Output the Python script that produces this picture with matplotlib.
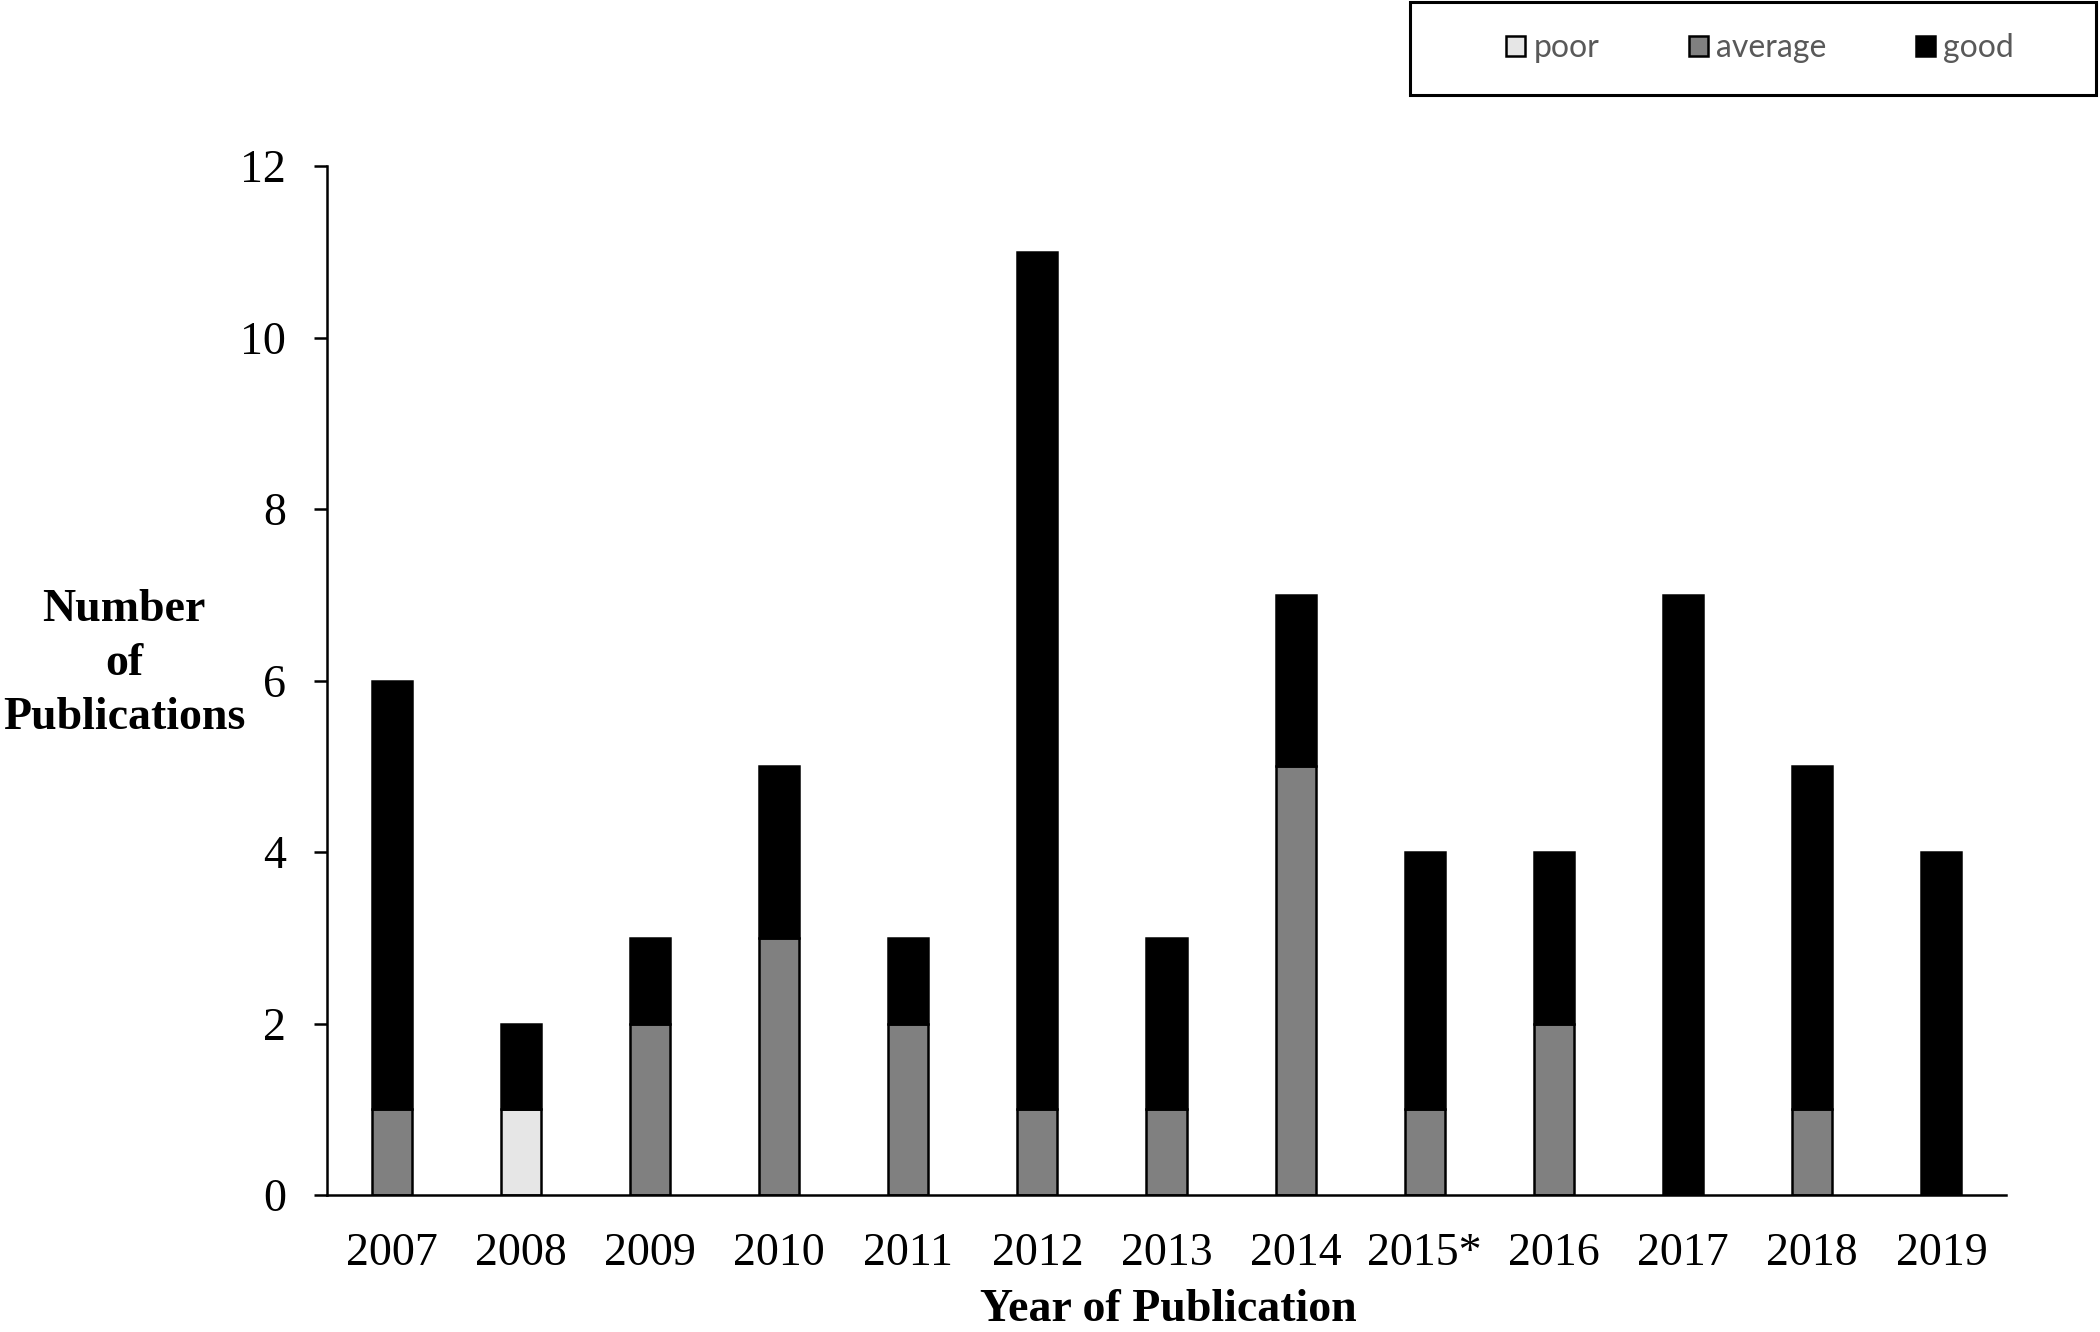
import numpy as np
import matplotlib
matplotlib.use('Agg')
import matplotlib.pyplot as plt
from matplotlib.patches import Rectangle

years = ['2007', '2008', '2009', '2010', '2011', '2012', '2013',
         '2014', '2015*', '2016', '2017', '2018', '2019']
poor = [0, 1, 0, 0, 0, 0, 0, 0, 0, 0, 0, 0, 0]
average = [1, 0, 2, 3, 2, 1, 1, 5, 1, 2, 0, 1, 0]
good = [5, 1, 1, 2, 1, 10, 2, 2, 3, 2, 7, 4, 4]
yticks = [0, 2, 4, 6, 8, 10, 12]

plt.rcParams['font.family'] = ['Liberation Serif', 'DejaVu Serif']

fig = plt.figure(figsize=(21, 13.32), dpi=100)
ax = fig.add_axes([327 / 2100, 1 - 1195 / 1332, (2006 - 327) / 2100, (1195 - 166) / 1332])

x = np.arange(len(years))
w = 0.31
p = np.array(poor)
a = np.array(average)
g = np.array(good)
b1 = ax.bar(x, p, w, color='#e6e6e6', edgecolor='black', linewidth=1.8, label='poor')
b2 = ax.bar(x, a, w, bottom=p, color='#808080', edgecolor='black', linewidth=1.8, label='average')
b3 = ax.bar(x, g, w, bottom=p + a, color='black', edgecolor='black', linewidth=1.8, label='good')

ax.set_xlim(-0.5, len(years) - 0.5)
ax.set_ylim(0, 12)
ax.set_yticks(yticks)
ax.set_xticks(x)
ax.set_xticklabels(years)
ax.tick_params(axis='y', direction='out', length=9.5, width=1.8, pad=20, labelsize=33)
ax.tick_params(axis='x', length=0, pad=27, labelsize=33)
for s in ['top', 'right']:
    ax.spines[s].set_visible(False)
for s in ['left', 'bottom']:
    ax.spines[s].set_linewidth(1.8)

fig.text(124 / 2100, 1 - 664 / 1332, 'Number\nof\nPublications', ha='center', va='center',
         multialignment='center', fontsize=33, fontweight='bold', linespacing=1.38)
fig.text(1168 / 2100, 1 - 1310 / 1332, 'Year of Publication', ha='center', va='center',
         fontsize=33, fontweight='bold')

# legend box
fig.patches.append(Rectangle((1410 / 2100, 1 - 95 / 1332), 686 / 2100, 93 / 1332,
                             transform=fig.transFigure, fill=False, edgecolor='black',
                             linewidth=2.2))
leg = fig.legend(handles=[b1, b2, b3], loc='center', ncol=3,
                 bbox_to_anchor=(1760 / 2100, 1 - 48 / 1332), frameon=False,
                 prop={'family': 'Lato', 'size': 23}, handlelength=0.6, handleheight=0.6,
                 handletextpad=0.25, columnspacing=2.8, labelcolor='#595959')

fig.savefig('out.png', dpi=100)
